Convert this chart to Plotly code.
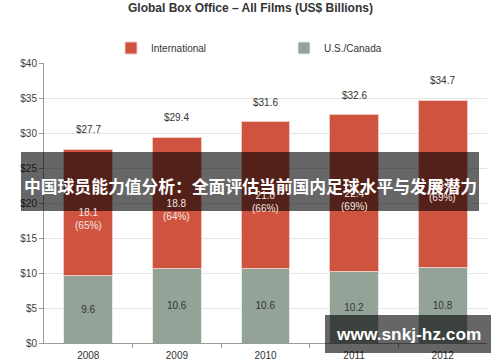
import plotly.graph_objects as go

years = ["2008", "2009", "2010", "2011", "2012"]
us_canada = [9.6, 10.6, 10.6, 10.2, 10.8]
international = [18.1, 18.8, 21.0, 22.4, 23.9]
intl_share = ["65%", "64%", "66%", "69%", "69%"]
totals = [27.7, 29.4, 31.6, 32.6, 34.7]
y_ticks = [0, 5, 10, 15, 20, 25, 30, 35, 40]
y_tick_labels = ["$0", "$5", "$10", "$15", "$20", "$25", "$30", "$35", "$40"]

RED = "#cf5440"
GRAY = "#94a397"
FONT = "Liberation Sans"

W, H = 500, 362
L, R, T, B = 44, 13, 63, 19
PW, PH = W - L - R, H - T - B


def px(x):
    return (x - L) / PW


def py(y):
    return (H - B - y) / PH


xpos = list(range(len(years)))

fig = go.Figure()
fig.add_trace(go.Bar(
    x=xpos, y=us_canada, name="U.S./Canada",
    marker=dict(color=GRAY, line=dict(color="#e8ece9", width=1)),
    text=[f"{v:.1f}" for v in us_canada], textposition="inside",
    insidetextanchor="middle", textfont=dict(color="#333333", size=10, family=FONT),
    hoverinfo="skip",
))
fig.add_trace(go.Bar(
    x=xpos, y=international, name="International",
    marker=dict(color=RED, line=dict(color="#f0c8c0", width=1)),
    hoverinfo="skip",
))
# invisible trace to display boundary tick marks on the second x axis
fig.add_trace(go.Scatter(x=[xpos[0]], y=[0], xaxis="x2", mode="markers",
                         marker=dict(opacity=0), showlegend=False, hoverinfo="skip"))

annotations = []
for xp, u, i, s, t in zip(xpos, us_canada, international, intl_share, totals):
    annotations.append(dict(
        x=xp, y=u + i / 2, xref="x", yref="y",
        text=f"{i:.1f}<br>({s})", showarrow=False, yanchor="middle", yshift=-7,
        font=dict(color="#f6e4e0", size=10, family=FONT),
    ))
    annotations.append(dict(
        x=xp, y=t, xref="x", yref="y", text=f"${t:.1f}", showarrow=False,
        yanchor="bottom", yshift=12, font=dict(color="#333333", size=10, family=FONT),
    ))

annotations.append(dict(
    x=px(250), y=py(8), xref="paper", yref="paper",
    xanchor="center", yanchor="middle",
    text="<b>Global Box Office – All Films (US$ Billions)</b>", showarrow=False,
    font=dict(size=12, color="#333333", family=FONT),
))
annotations.append(dict(
    x=px(250), y=py(186), xref="paper", yref="paper",
    text="<b>中国球员能力值分析：全面评估当前国内足球水平与发展潜力</b>",
    showarrow=False, xanchor="center", yanchor="middle",
    font=dict(size=16.8, color="white", family="Noto Sans CJK SC"),
))
annotations.append(dict(
    x=px(408), y=py(334), xref="paper", yref="paper",
    text="<b>www.snkj-hz.com</b>", showarrow=False, xanchor="center", yanchor="middle",
    font=dict(size=17.3, color="white", family="Liberation Sans"),
))

fig.update_layout(
    barmode="stack",
    bargap=0.45,
    width=W, height=H,
    margin=dict(l=L, r=R, t=T, b=B, autoexpand=False),
    paper_bgcolor="white", plot_bgcolor="white",
    font=dict(family=FONT, size=10, color="#404040"),
    showlegend=True,
    legend=dict(
        orientation="h", x=px(111), y=py(48),
        xanchor="left", yanchor="middle",
        traceorder="reversed", entrywidth=128, entrywidthmode="pixels",
        itemwidth=30, font=dict(size=10, color="#333333", family=FONT),
        bgcolor="rgba(0,0,0,0)",
    ),
    xaxis=dict(
        range=[-0.5, len(years) - 0.5],
        tickvals=xpos, ticktext=years, ticklabelstandoff=3,
        showline=True, linecolor="#9a9a9a", linewidth=1, ticks="",
        showgrid=False, zeroline=False,
        tickfont=dict(size=10, color="#333333"), fixedrange=True,
    ),
    xaxis2=dict(
        overlaying="x", matches="x", range=[-0.5, len(years) - 0.5],
        tickvals=[p + 0.5 for p in xpos[:-1]], ticktext=[""] * (len(years) - 1),
        ticks="outside", ticklen=4, tickcolor="#9a9a9a", showgrid=False,
        zeroline=False, side="bottom", fixedrange=True,
    ),
    yaxis=dict(
        range=[0, 40], tickvals=y_ticks, ticktext=y_tick_labels,
        showline=True, linecolor="#9a9a9a", linewidth=1, ticks="outside",
        ticklen=4, tickcolor="#9a9a9a", showgrid=True, gridcolor="#e4e4e4",
        gridwidth=1, zeroline=False, tickfont=dict(size=10, color="#404040"),
        fixedrange=True,
    ),
    annotations=annotations,
    shapes=[
        dict(type="rect", xref="paper", yref="paper", layer="above",
             x0=px(21), x1=px(479), y0=py(211), y1=py(152),
             fillcolor="rgba(0,0,0,0.6)", line=dict(width=0)),
        dict(type="rect", xref="paper", yref="paper", layer="above",
             x0=px(325), x1=px(491), y0=py(353), y1=py(315),
             fillcolor="rgba(0,0,0,0.6)", line=dict(width=0)),
    ],
)

fig.write_html("out.html", config={"displayModeBar": False},
               post_script="document.body.style.margin='0px';")
